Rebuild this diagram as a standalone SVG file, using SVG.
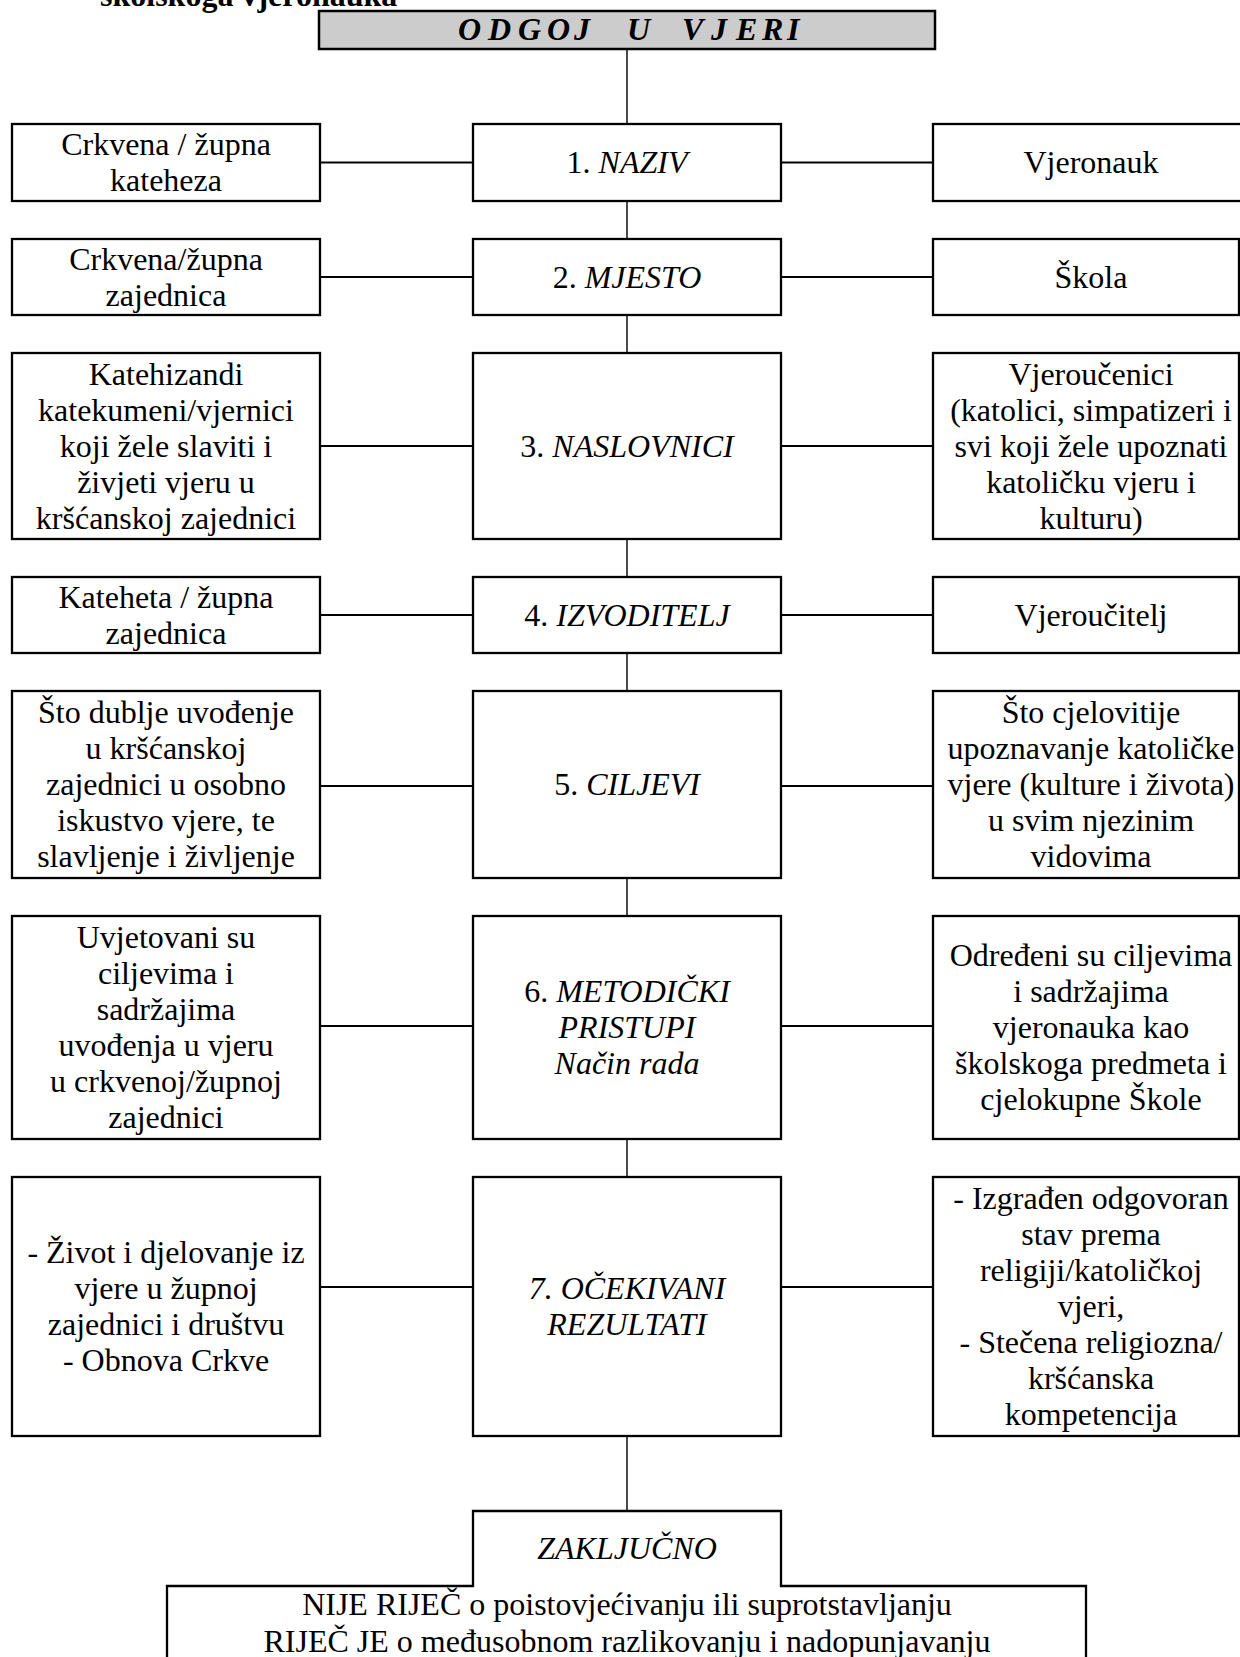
<svg xmlns="http://www.w3.org/2000/svg" width="1240" height="1657" viewBox="0 0 1240 1657">
<style>
.bx{fill:#fff;stroke:#000;stroke-width:2.3}
.t{font-family:"Liberation Serif","Times New Roman",serif;font-size:32px;fill:#000;text-anchor:middle}
.i{font-style:italic}
.v{stroke:#000;stroke-width:1.4;fill:none}
.h{stroke:#000;stroke-width:2;fill:none}
</style>
<rect width="1240" height="1657" fill="#fff"/>
<text x="100" y="6" style="font-family:'Liberation Serif','Times New Roman',serif;font-size:32px;font-weight:bold">školskoga vjeronauka</text>

<g id="connectors">
<path class="v" d="M627,49V124M627,201V239M627,315V353M627,539V577M627,653V691M627,878V916M627,1139V1177M627,1436V1511"/>
<path class="h" d="M320,162.5H473M781,162.5H933M320,277H473M781,277H933M320,446H473M781,446H933M320,615H473M781,615H933M320,786H473M781,786H933M320,1026H473M781,1026H933M320,1287H473M781,1287H933"/>
</g>

<g id="title">
<rect x="319" y="11" width="616" height="38" fill="#cccccc" stroke="#000" stroke-width="2.5"/>
<text style="font-family:'Liberation Serif','Times New Roman',serif;font-size:32px;font-weight:bold;font-style:italic" y="40" x="458 481 488 511 518 541 547 570 574 590 627 650 682 703 711 727 736 757 762 783 787">O D G O J U V J E R I</text>
</g>

<g id="r1l"><rect class="bx" x="12" y="124" width="308" height="77"/>
<text class="t"><tspan x="166" y="155">Crkvena / župna</tspan><tspan x="166" y="191">kateheza</tspan></text></g>
<g id="r1c"><rect class="bx" x="473" y="124" width="308" height="77"/>
<text class="t" x="627" y="173">1. <tspan class="i">NAZIV</tspan></text></g>
<g id="r1r"><rect class="bx" x="933" y="124" width="312" height="77"/>
<text class="t" x="1091" y="173">Vjeronauk</text></g>

<g id="r2l"><rect class="bx" x="12" y="239" width="308" height="76"/>
<text class="t"><tspan x="166" y="269.5">Crkvena/župna</tspan><tspan x="166" y="305.5">zajednica</tspan></text></g>
<g id="r2c"><rect class="bx" x="473" y="239" width="308" height="76"/>
<text class="t" x="627" y="287.5">2. <tspan class="i">MJESTO</tspan></text></g>
<g id="r2r"><rect class="bx" x="933" y="239" width="306" height="76"/>
<text class="t" x="1091" y="287.5">Škola</text></g>

<g id="r3l"><rect class="bx" x="12" y="353" width="308" height="186"/>
<text class="t"><tspan x="166" y="384.5">Katehizandi</tspan><tspan x="166" y="420.5">katekumeni/vjernici</tspan><tspan x="166" y="456.5">koji žele slaviti i</tspan><tspan x="166" y="492.5">živjeti vjeru u</tspan><tspan x="166" y="528.5">kršćanskoj zajednici</tspan></text></g>
<g id="r3c"><rect class="bx" x="473" y="353" width="308" height="186"/>
<text class="t" x="627" y="456.5">3. <tspan class="i">NASLOVNICI</tspan></text></g>
<g id="r3r"><rect class="bx" x="933" y="353" width="306" height="186"/>
<text class="t"><tspan x="1091" y="384.5">Vjeroučenici</tspan><tspan x="1091" y="420.5">(katolici, simpatizeri i</tspan><tspan x="1091" y="456.5">svi koji žele upoznati</tspan><tspan x="1091" y="492.5">katoličku vjeru i</tspan><tspan x="1091" y="528.5">kulturu)</tspan></text></g>

<g id="r4l"><rect class="bx" x="12" y="577" width="308" height="76"/>
<text class="t"><tspan x="166" y="607.5">Kateheta / župna</tspan><tspan x="166" y="643.5">zajednica</tspan></text></g>
<g id="r4c"><rect class="bx" x="473" y="577" width="308" height="76"/>
<text class="t" x="627" y="625.5">4. <tspan class="i">IZVODITELJ</tspan></text></g>
<g id="r4r"><rect class="bx" x="933" y="577" width="306" height="76"/>
<text class="t" x="1091" y="625.5">Vjeroučitelj</text></g>

<g id="r5l"><rect class="bx" x="12" y="691" width="308" height="187"/>
<text class="t"><tspan x="166" y="723">Što dublje uvođenje</tspan><tspan x="166" y="759">u kršćanskoj</tspan><tspan x="166" y="795">zajednici u osobno</tspan><tspan x="166" y="831">iskustvo vjere, te</tspan><tspan x="166" y="867">slavljenje i življenje</tspan></text></g>
<g id="r5c"><rect class="bx" x="473" y="691" width="308" height="187"/>
<text class="t" x="627" y="795">5. <tspan class="i">CILJEVI</tspan></text></g>
<g id="r5r"><rect class="bx" x="933" y="691" width="306" height="187"/>
<text class="t"><tspan x="1091" y="723">Što cjelovitije</tspan><tspan x="1091" y="759">upoznavanje katoličke</tspan><tspan x="1091" y="795">vjere (kulture i života)</tspan><tspan x="1091" y="831">u svim njezinim</tspan><tspan x="1091" y="867">vidovima</tspan></text></g>

<g id="r6l"><rect class="bx" x="12" y="916" width="308" height="223"/>
<text class="t"><tspan x="166" y="948">Uvjetovani su</tspan><tspan x="166" y="984">ciljevima i</tspan><tspan x="166" y="1020">sadržajima</tspan><tspan x="166" y="1056">uvođenja u vjeru</tspan><tspan x="166" y="1092">u crkvenoj/župnoj</tspan><tspan x="166" y="1128">zajednici</tspan></text></g>
<g id="r6c"><rect class="bx" x="473" y="916" width="308" height="223"/>
<text class="t"><tspan x="627" y="1002">6. <tspan class="i">METODIČKI</tspan></tspan><tspan class="i" x="627" y="1038">PRISTUPI</tspan><tspan class="i" x="627" y="1074">Način rada</tspan></text></g>
<g id="r6r"><rect class="bx" x="933" y="916" width="306" height="223"/>
<text class="t"><tspan x="1091" y="966">Određeni su ciljevima</tspan><tspan x="1091" y="1002">i sadržajima</tspan><tspan x="1091" y="1038">vjeronauka kao</tspan><tspan x="1091" y="1074">školskoga predmeta i</tspan><tspan x="1091" y="1110">cjelokupne Škole</tspan></text></g>

<g id="r7l"><rect class="bx" x="12" y="1177" width="308" height="259"/>
<text class="t"><tspan x="166" y="1263">- Život i djelovanje iz</tspan><tspan x="166" y="1299">vjere u župnoj</tspan><tspan x="166" y="1335">zajednici i društvu</tspan><tspan x="166" y="1371">- Obnova Crkve</tspan></text></g>
<g id="r7c"><rect class="bx" x="473" y="1177" width="308" height="259"/>
<text class="t i"><tspan x="627" y="1299">7. OČEKIVANI</tspan><tspan x="627" y="1335">REZULTATI</tspan></text></g>
<g id="r7r"><rect class="bx" x="933" y="1177" width="306" height="259"/>
<text class="t"><tspan x="1091" y="1209">- Izgrađen odgovoran</tspan><tspan x="1091" y="1245">stav prema</tspan><tspan x="1091" y="1281">religiji/katoličkoj</tspan><tspan x="1091" y="1317">vjeri,</tspan><tspan x="1091" y="1353">- Stečena religiozna/</tspan><tspan x="1091" y="1389">kršćanska</tspan><tspan x="1091" y="1425">kompetencija</tspan></text></g>

<g id="zakljucno">
<path class="bx" d="M167,1662V1586H473V1511H781V1586H1086V1662"/>
<text class="t i" x="627" y="1559">ZAKLJUČNO</text>
<text class="t"><tspan x="627" y="1615">NIJE RIJEČ o poistovjećivanju ili suprotstavljanju</tspan><tspan x="627" y="1652">RIJEČ JE o međusobnom razlikovanju i nadopunjavanju</tspan></text>
</g>
</svg>
